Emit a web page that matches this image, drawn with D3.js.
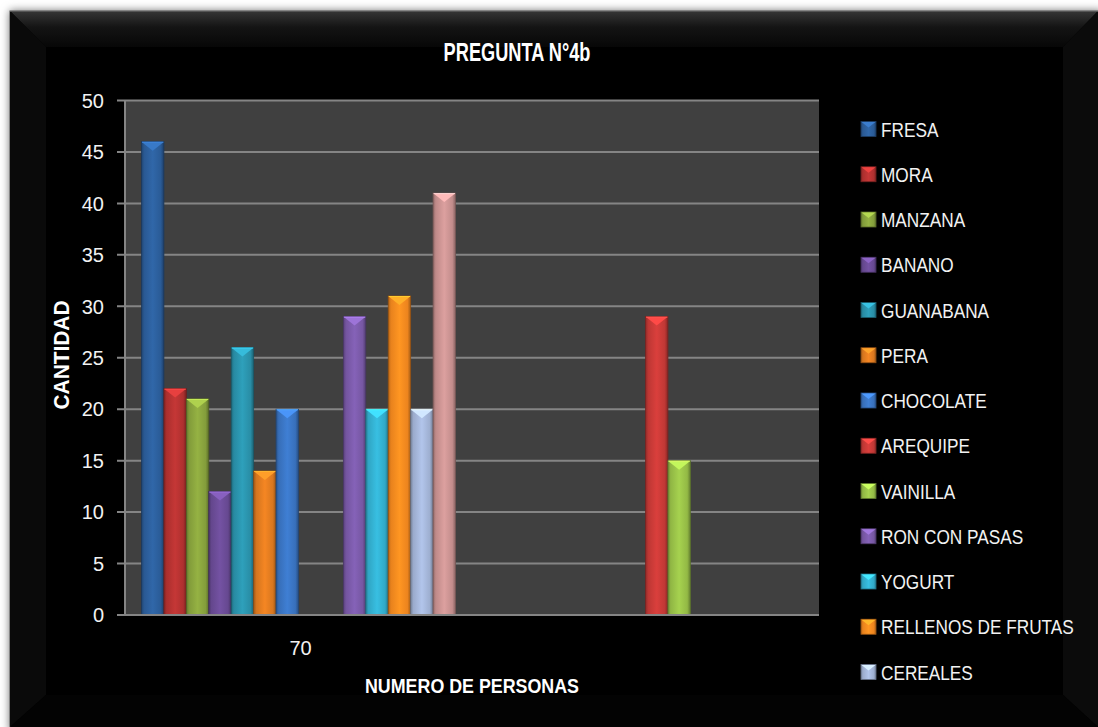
<!DOCTYPE html>
<html>
<head>
<meta charset="utf-8">
<script src="https://cdn.jsdelivr.net/npm/d3@7"></script>
<style>
  html, body { margin: 0; padding: 0; background: #ffffff; }
  svg { display: block; }
</style>
</head>
<body>
<script>
// Survey chart: "PREGUNTA N°4b" — clustered bars per group of people
const categories = ["70", ""];
const seriesNames = [
  "FRESA", "MORA", "MANZANA", "BANANO", "GUANABANA", "PERA", "CHOCOLATE",
  "AREQUIPE", "VAINILLA", "RON CON PASAS", "YOGURT", "RELLENOS DE FRUTAS",
  "CEREALES", "OTROS"
];
// one value per category, in series order
const fresa      = [46, 0];
const mora       = [22, 0];
const manzana    = [21, 0];
const banano     = [12, 0];
const guanabana  = [26, 0];
const pera       = [14, 0];
const chocolate  = [20, 0];
const arequipe   = [0, 29];
const vainilla   = [0, 15];
const ronPasas   = [29, 0];
const yogurt     = [20, 0];
const rellenos   = [31, 0];
const cereales   = [20, 0];
const otros      = [41, 0];
const seriesValues = [fresa, mora, manzana, banano, guanabana, pera, chocolate,
  arequipe, vainilla, ronPasas, yogurt, rellenos, cereales, otros];
const yTicks = [0, 5, 10, 15, 20, 25, 30, 35, 40, 45, 50];

const seriesColors = ["#2c5e9b", "#b43231", "#88a33d", "#6a4b95", "#2a92ab", "#e07b20",
  "#3a74c2", "#c73a37", "#98c048", "#7a5aa8", "#33afcf", "#f5891f", "#a3b4d7", "#c99291"];

const W = 1098, H = 727;
const svg = d3.select("body").append("svg").attr("width", W).attr("height", H);
const defs = svg.append("defs");

// ---------- frame ----------
const shadow = defs.append("filter").attr("id", "frameShadow")
  .attr("x", "-5%").attr("y", "-5%").attr("width", "110%").attr("height", "110%");
shadow.append("feDropShadow").attr("dx", 0).attr("dy", 0)
  .attr("stdDeviation", 4).attr("flood-color", "#000").attr("flood-opacity", 0.55);

const topBevel = defs.append("linearGradient").attr("id", "topBevel")
  .attr("x1", 0).attr("y1", 0).attr("x2", 0).attr("y2", 1);
topBevel.append("stop").attr("offset", 0).attr("stop-color", "#363636");
topBevel.append("stop").attr("offset", 0.45).attr("stop-color", "#141414");
topBevel.append("stop").attr("offset", 1).attr("stop-color", "#070707");

const fx0 = 10, fy0 = 11, fx1 = W + 4, fy1 = H + 4, bev = 36;
svg.append("rect").attr("x", fx0).attr("y", fy0)
  .attr("width", fx1 - fx0).attr("height", fy1 - fy0)
  .attr("fill", "#060606").attr("stroke", "#4a4a4a").attr("stroke-width", 1)
  .attr("filter", "url(#frameShadow)");
const frame = svg.append("g");
frame.append("polygon").attr("points", [[fx0, fy0], [1098, fy0], [1063, fy0 + bev], [fx0 + bev, fy0 + bev]].join(" "))
  .attr("fill", "url(#topBevel)");
frame.append("polygon").attr("points", [[fx0, fy0], [fx0 + bev, fy0 + bev], [fx0 + bev, 695], [fx0, H]].join(" "))
  .attr("fill", "#0a0a0a");
frame.append("polygon").attr("points", [[1098, fy0], [1098, H], [1063, 695], [1063, fy0 + bev]].join(" "))
  .attr("fill", "#0b0b0b");
frame.append("polygon").attr("points", [[fx0, H], [fx0 + bev, 695], [1063, 695], [1098, H]].join(" "))
  .attr("fill", "#030303");
svg.append("line").attr("x1", fx0).attr("x2", 1098).attr("y1", fy0 + 0.5).attr("y2", fy0 + 0.5)
  .attr("stroke", "#555").attr("stroke-width", 1.2);

// ---------- scales ----------
const plot = { left: 125, right: 819, top: 100.5, bottom: 615 };
const y = d3.scaleLinear().domain([0, 50]).range([plot.bottom, plot.top]);
const x0 = d3.scaleBand().domain(categories).range([plot.left, plot.right])
  .paddingInner(0.095).paddingOuter(0.0475);
const x1 = d3.scaleBand().domain(seriesNames).range([0, x0.bandwidth()]);
const color = d3.scaleOrdinal().domain(seriesNames).range(seriesColors);

// plot background
svg.append("rect").attr("x", plot.left).attr("y", plot.top)
  .attr("width", plot.right - plot.left).attr("height", plot.bottom - plot.top)
  .attr("fill", "#404040");

// gridlines
svg.append("g").selectAll("line").data(yTicks).join("line")
  .attr("x1", plot.left - 8).attr("x2", plot.right)
  .attr("y1", d => y(d)).attr("y2", d => y(d))
  .attr("stroke", "#858585").attr("stroke-width", 2);

// y axis line
svg.append("line").attr("x1", plot.left).attr("x2", plot.left)
  .attr("y1", plot.top).attr("y2", plot.bottom)
  .attr("stroke", "#858585").attr("stroke-width", 2);

// y tick labels
svg.append("g").selectAll("text").data(yTicks).join("text")
  .attr("x", 104).attr("y", d => y(d)).attr("dy", "0.36em")
  .attr("text-anchor", "end")
  .attr("font-family", "'Liberation Sans', Arial, sans-serif")
  .attr("font-size", 20).attr("fill", "#f2f2f2")
  .text(d => d);

// x category labels
svg.append("g").selectAll("text").data(categories).join("text")
  .attr("x", d => x0(d) + x0.bandwidth() / 2 + 2).attr("y", 655)
  .attr("text-anchor", "middle")
  .attr("font-family", "'Liberation Sans', Arial, sans-serif")
  .attr("font-size", 20).attr("fill", "#f2f2f2")
  .text(d => d);

// ---------- bar shading ----------
seriesNames.forEach((name, i) => {
  const c = d3.color(color(name));
  const g = defs.append("linearGradient").attr("id", "barGrad" + i)
    .attr("x1", 0).attr("y1", 0).attr("x2", 1).attr("y2", 0);
  g.append("stop").attr("offset", 0).attr("stop-color", c.darker(0.9));
  g.append("stop").attr("offset", 0.12).attr("stop-color", c.darker(0.15));
  g.append("stop").attr("offset", 0.5).attr("stop-color", c.brighter(0.25));
  g.append("stop").attr("offset", 0.86).attr("stop-color", c.darker(0.1));
  g.append("stop").attr("offset", 1).attr("stop-color", c.darker(1.1));
});

// ---------- bars ----------
const barData = [];
categories.forEach((cat, ci) => {
  seriesNames.forEach((name, si) => {
    const v = seriesValues[si][ci];
    if (v > 0) barData.push({ cat, name, si, v });
  });
});

const bars = svg.append("g").selectAll("g").data(barData).join("g");
bars.append("rect")
  .attr("x", d => x0(d.cat) + x1(d.name))
  .attr("y", d => y(d.v))
  .attr("width", x1.bandwidth())
  .attr("height", d => y(0) - y(d.v))
  .attr("fill", d => `url(#barGrad${d.si})`)
  .attr("stroke", d => d3.color(color(d.name)).darker(1.4))
  .attr("stroke-width", 0.8);
// pyramid-style cap on top of each bar
bars.append("polygon")
  .attr("points", d => {
    const bx = x0(d.cat) + x1(d.name), bw = x1.bandwidth(), by = y(d.v);
    return [[bx + 0.5, by + 0.5], [bx + bw - 0.5, by + 0.5], [bx + bw / 2, by + 9]].join(" ");
  })
  .attr("fill", d => d3.color(color(d.name)).brighter(0.7));
bars.append("line")
  .attr("x1", d => x0(d.cat) + x1(d.name) + 0.5)
  .attr("x2", d => x0(d.cat) + x1(d.name) + x1.bandwidth() - 0.5)
  .attr("y1", d => y(d.v) + 0.5).attr("y2", d => y(d.v) + 0.5)
  .attr("stroke", d => d3.color(color(d.name)).brighter(1.1)).attr("stroke-width", 1);

// x axis baseline
svg.append("line").attr("x1", plot.left - 8).attr("x2", plot.right)
  .attr("y1", y(0)).attr("y2", y(0))
  .attr("stroke", "#858585").attr("stroke-width", 2);

// ---------- titles (horizontally condensed lettering) ----------
const sans = "'Liberation Sans', Arial, sans-serif";
function condensedText(parent, x, yPos, sx, rotate) {
  const rot = rotate ? ` rotate(${rotate})` : "";
  return parent.append("text")
    .attr("transform", `translate(${x},${yPos})${rot} scale(${sx},1)`)
    .attr("font-family", sans).attr("fill", "#ffffff");
}
condensedText(svg, 517, 61, 0.7).attr("text-anchor", "middle")
  .attr("font-weight", "bold").attr("font-size", 26).text("PREGUNTA  N°4b");

condensedText(svg, 472, 693, 0.85).attr("text-anchor", "middle")
  .attr("font-weight", "bold").attr("font-size", 21).text("NUMERO DE PERSONAS");

condensedText(svg, 69, 355, 0.95, -90).attr("text-anchor", "middle")
  .attr("font-weight", "bold").attr("font-size", 22).text("CANTIDAD");

// ---------- legend ----------
const legendTop = 129, legendStep = 45.25, legendBottomLimit = 700;
const legendItems = seriesNames
  .map((name, i) => ({ name, i, cy: legendTop + i * legendStep }))
  .filter(d => d.cy < legendBottomLimit);
const leg = svg.append("g").selectAll("g").data(legendItems).join("g")
  .attr("transform", d => `translate(861,${d.cy - 7.5})`);
leg.append("rect").attr("width", 15).attr("height", 15)
  .attr("fill", d => `url(#barGrad${d.i})`)
  .attr("stroke", d => d3.color(color(d.name)).darker(1.2)).attr("stroke-width", 0.8);
leg.append("polygon").attr("points", "0.5,0.5 14.5,0.5 7.5,6")
  .attr("fill", d => d3.color(color(d.name)).brighter(0.8));
leg.append("text")
  .attr("transform", "translate(20,7.5) scale(0.82,1)")
  .attr("dy", "0.36em")
  .attr("font-family", sans).attr("font-size", 21).attr("fill", "#f2f2f2")
  .text(d => d.name);
</script>
</body>
</html>
